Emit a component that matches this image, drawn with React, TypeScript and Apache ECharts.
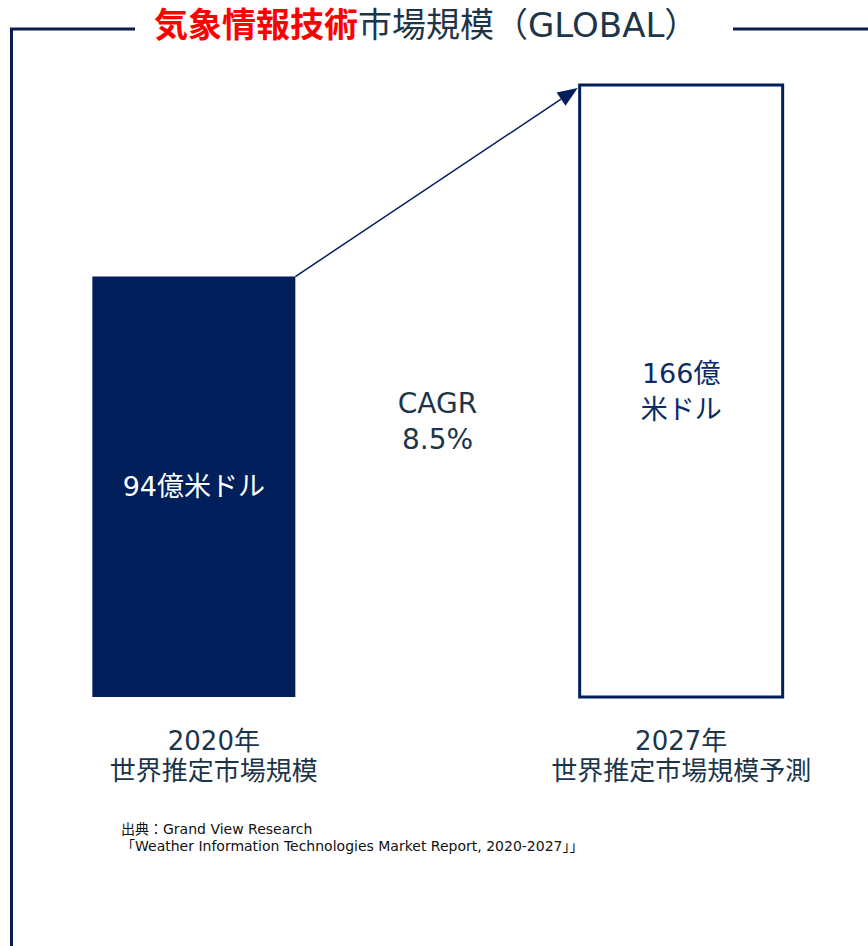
import React, { useEffect, useRef } from "react";
import * as echarts from "echarts";

const categories = ["2020年\n世界推定市場規模", "", "2027年\n世界推定市場規模予測"];
const marketValues = [94, null, 166];
const valueLabels = ["94億米ドル", "", "166億\n米ドル"];
const cagrLabel = "CAGR\n8.5%";
const titleRed = "気象情報技術";
const titleRest = "市場規模（GLOBAL）";
const sourceLines = [
  "出典：Grand View Research",
  "「Weather Information Technologies Market Report, 2020-2027」」",
];

const Y_MIN = -64;
const Y_MAX = 166;
const NAVY = "#001f5b";
const TEXT = "#1d3549";
const FONT = "'DejaVu Sans', 'Noto Sans CJK JP', sans-serif";
const BAR_W = 203;

export default function App() {
  const ref = useRef<HTMLDivElement>(null);
  useEffect(() => {
    if (!ref.current) return;
    const chart = echarts.init(ref.current, null, { renderer: "svg" });
    const barData = marketValues
      .map((v, i) => (v === null ? null : [i, v]))
      .filter((d) => d !== null);

    const labelStyle = {
      fontSize: 26,
      lineHeight: 30,
      color: TEXT,
      fontFamily: FONT,
      align: "center",
    };

    const option: any = {
      animation: false,
      backgroundColor: "#ffffff",
      grid: { left: 72, width: 731, top: 85, bottom: 249, containLabel: false },
      xAxis: {
        type: "category",
        data: categories,
        axisLine: { show: false },
        axisTick: { show: false },
        axisLabel: {
          interval: 0,
          margin: 29,
          fontSize: 26,
          lineHeight: 30,
          color: TEXT,
          fontFamily: FONT,
          formatter: (val: string, idx: number) => {
            if (!val) return "";
            const lines = val.split("\n");
            const key = idx === 0 ? "s" : "n";
            return lines.map((l) => `{${key}|${l}}`).join("\n");
          },
          rich: {
            s: { ...labelStyle, padding: [0, 0, 0, 40] },
            n: { ...labelStyle },
          },
        },
      },
      yAxis: {
        type: "value",
        min: Y_MIN,
        max: Y_MAX,
        show: false,
      },
      series: [
        {
          type: "custom",
          encode: { x: 0, y: 1 },
          data: barData,
          renderItem: (params: any, api: any) => {
            const idx = api.value(0);
            const v = api.value(1);
            const top = api.coord([idx, v]);
            const base = api.coord([idx, Y_MIN]);
            const filled = idx === 0;
            return {
              type: "rect",
              shape: {
                x: top[0] - BAR_W / 2,
                y: top[1],
                width: BAR_W,
                height: base[1] - top[1],
              },
              style: filled
                ? { fill: NAVY }
                : { fill: "#ffffff", stroke: NAVY, lineWidth: 3 },
              textContent: {
                style: {
                  text: valueLabels[idx],
                  font: `27px ${FONT}`,
                  lineHeight: 36,
                  fill: filled ? "#ffffff" : "#0c2a66",
                  align: "center",
                  verticalAlign: "middle",
                },
              },
              textConfig: { position: "inside" },
            };
          },
        },
      ],
    };
    chart.setOption(option);

    const p1 = chart.convertToPixel({ seriesIndex: 0 }, [0, marketValues[0] as number]) as number[];
    const p2 = chart.convertToPixel({ seriesIndex: 0 }, [2, marketValues[2] as number]) as number[];
    const pm = chart.convertToPixel({ seriesIndex: 0 }, [1, 0]) as number[];
    const half = BAR_W / 2;
    const sx = p1[0] + half;
    const sy = p1[1];
    const ex = p2[0] - half - 2;
    const ey = p2[1] + 3;
    const ang = Math.atan2(ey - sy, ex - sx);
    const hl = 20;
    const hw = 8;
    const bx = ex - hl * Math.cos(ang);
    const by = ey - hl * Math.sin(ang);
    const nx = -Math.sin(ang);
    const ny = Math.cos(ang);

    chart.setOption({
      graphic: [
        {
          type: "line",
          shape: { x1: 11.5, y1: 29, x2: 11.5, y2: 946 },
          style: { stroke: "#0b1d4d", lineWidth: 3 },
        },
        {
          type: "line",
          shape: { x1: 10, y1: 29, x2: 135, y2: 29 },
          style: { stroke: "#0b1d4d", lineWidth: 3 },
        },
        {
          type: "line",
          shape: { x1: 733, y1: 29, x2: 868, y2: 29 },
          style: { stroke: "#0b1d4d", lineWidth: 3 },
        },
        {
          type: "text",
          x: 154,
          y: 25,
          style: {
            text: `{r|${titleRed}}{d|${titleRest}}`,
            rich: {
              r: {
                fontSize: 34,
                fontWeight: "bold",
                fontFamily: FONT,
                fill: "#ff0000",
                color: "#ff0000",
              },
              d: {
                fontSize: 34,
                fontFamily: FONT,
                fill: TEXT,
                color: TEXT,
              },
            },
            verticalAlign: "middle",
          },
        },
        {
          type: "line",
          shape: { x1: sx, y1: sy, x2: bx, y2: by },
          style: { stroke: NAVY, lineWidth: 1.5 },
        },
        {
          type: "polygon",
          shape: {
            points: [
              [ex, ey],
              [bx + nx * hw, by + ny * hw],
              [bx - nx * hw, by - ny * hw],
            ],
          },
          style: { fill: NAVY },
        },
        {
          type: "text",
          x: pm[0],
          y: 421,
          style: {
            text: cagrLabel,
            font: `28px ${FONT}`,
            lineHeight: 36,
            fill: TEXT,
            align: "center",
            verticalAlign: "middle",
          },
        },
        {
          type: "text",
          x: 121,
          y: 820,
          style: {
            text: sourceLines.join("\n"),
            font: `14px 'DejaVu Sans', 'Noto Sans CJK JP', sans-serif`,
            lineHeight: 17,
            fill: "#111111",
          },
        },
      ],
    });

    return () => chart.dispose();
  }, []);
  return (
    <div
      ref={ref}
      style={{ position: "fixed", left: 0, top: 0, width: 868, height: 946 }}
    />
  );
}
